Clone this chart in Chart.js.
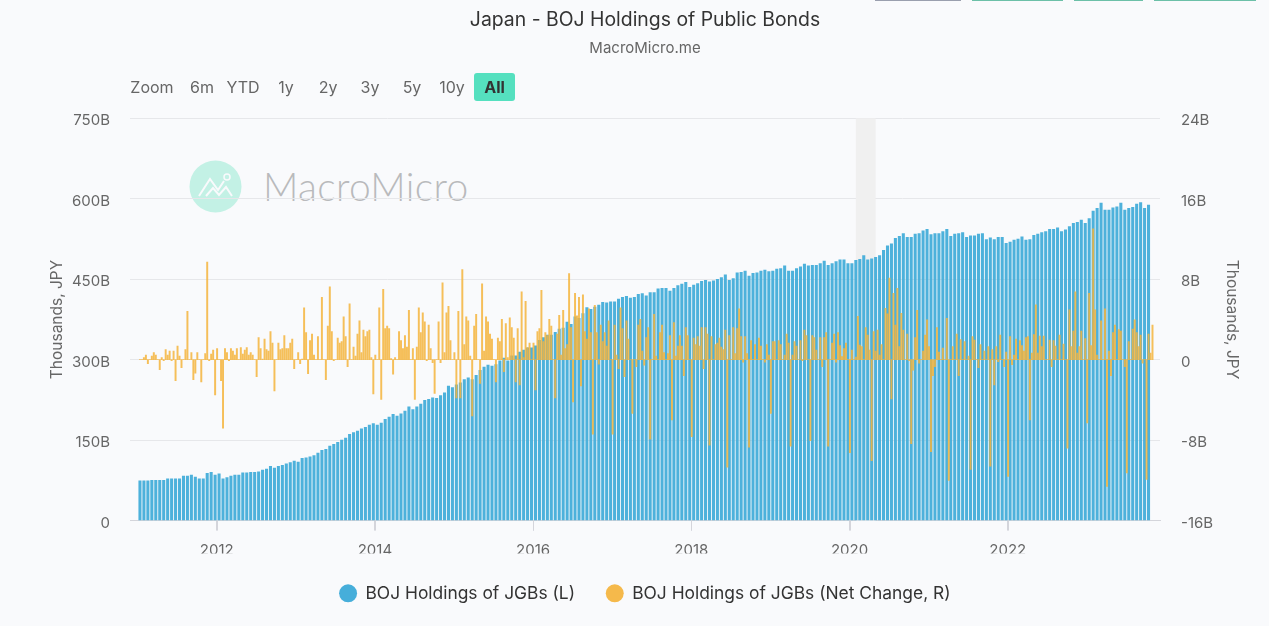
<!DOCTYPE html>
<html>
<head>
<meta charset="utf-8">
<title>Japan - BOJ Holdings of Public Bonds</title>
<script src="https://cdn.jsdelivr.net/npm/chart.js@4"></script>
<style>
  html, body { margin: 0; padding: 0; background: #f9fafc; overflow: hidden; }
  body { width: 1269px; height: 626px; position: relative; font-family: Inter, sans-serif; }
  canvas { position: absolute; left: 0; top: 0; }
  .range { position: absolute; top: 73px; height: 28px; line-height: 28px; font-size: 16px; color: #666; text-align: center; }
  .range.active { background: #55e0bf; border-radius: 3px; color: #333; font-weight: 700; }
  .cut { position: absolute; top: 0; height: 1px; }
  .mark { position: absolute; left: 189px; top: 160px; }
  .markText { position: absolute; left: 263px; top: 163px; font: 300 39px Lato, sans-serif; color: #b9babc; letter-spacing: 0.3px; }
</style>
</head>
<body>
<div class="cut" style="left:875px;width:86px;background:#9a9fae"></div>
<div class="cut" style="left:972px;width:91px;background:#6cc0a8"></div>
<div class="cut" style="left:1074px;width:69px;background:#6cc0a8"></div>
<div class="cut" style="left:1154px;width:102px;background:#6cc0a8"></div>

<svg class="mark" width="53" height="53" viewBox="0 0 53 53">
  <circle cx="26.5" cy="26.5" r="26" fill="#c3f1e5"/>
  <polyline points="10,36 21,19 29,30 35,21" fill="none" stroke="#f9fafc" stroke-width="2"/>
  <polyline points="17,36 24,28 30,35 37,27 43,36" fill="none" stroke="#f9fafc" stroke-width="2"/>
  <circle cx="38" cy="17" r="3" fill="none" stroke="#f9fafc" stroke-width="1.5"/>
</svg>
<div class="markText">MacroMicro</div>

<canvas id="chart" width="1269" height="626"></canvas>

<div class="range" style="left:130px;width:44px">Zoom</div>
<div class="range" style="left:187px;width:30px">6m</div>
<div class="range" style="left:224px;width:38px">YTD</div>
<div class="range" style="left:272px;width:28px">1y</div>
<div class="range" style="left:314px;width:28px">2y</div>
<div class="range" style="left:356px;width:28px">3y</div>
<div class="range" style="left:398px;width:28px">5y</div>
<div class="range" style="left:436px;width:32px">10y</div>
<div class="range active" style="left:474px;width:41px">All</div>

<script>
// ===== Data (billions) =====
const firstPeriod = 2011.03;
const holdingsPerYear = 20;
const changePerYear = 40;
const xTicks = [2012, 2014, 2016, 2018, 2020, 2022];
const leftTicks = [0, 150, 300, 450, 600, 750];
const rightTicks = [-16, -8, 0, 8, 16, 24];
const shadedPeriod = [2020.08, 2020.33];

const holdings = [
  74,74,74,75,75,75,75,78,78,78,
  78,83,83,85,81,78,78,88,90,85,
  87,78,80,83,85,85,89,89,90,90,
  91,94,96,101,98,101,103,106,108,111,
  109,116,117,119,121,126,131,133,139,142,
  146,150,154,161,164,167,171,174,178,181,
  178,182,189,193,198,195,199,204,212,207,
  212,217,224,226,229,228,233,238,251,248,
  253,257,263,
  266,263,271,280,286,290,288,291,298,303,
  298,307,307,314,318,322,322,326,336,341,
  346,346,351,357,359,370,366,380,377,386,
  397,394,398,402,407,406,408,408,413,416,
  418,415,416,422,423,419,425,425,432,433,
  433,428,433,438,441,444,435,439,442,446,
  448,445,447,450,453,458,448,451,462,463,
  465,456,461,462,465,467,464,465,469,470,
  475,465,465,470,473,478,
  475,476,476,479,484,476,479,483,486,486,
  479,479,485,487,494,486,488,491,494,504,
  512,516,526,530,535,528,528,534,535,540,
  543,533,535,535,539,543,530,534,535,537,
  528,531,531,534,535,524,527,524,528,528,
  517,519,523,525,529,523,524,532,534,537,
  539,543,543,546,539,542,548,554,556,560,
  554,563,577,582,592,579,579,583,585,592,
  579,582,584,590,593,582,588
];

const netChange = [
  0,0,.2,.45,-.4,0,.35,.7,.45,0,
  -1,.2,-.1,1,.45,.85,-.1,.85,-2.1,1.35,
  .35,-.8,0,1,4.8,0,.7,-2,-1.35,.7,
  0,-2.2,0,.6,9.7,-.1,.55,.95,-3.5,1.1,
  0,-2.1,-6.8,1.1,.7,-.1,1.1,.85,.45,1.1,
  0,1.2,.55,.95,1.2,.45,.7,.45,0,-1.7,
  2.2,1.1,.05,2.05,1,.85,2.8,1.65,-3.1,0,
  1.65,1,1.1,2.4,1.1,1.1,1.65,2.05,-.9,0,
  .7,-.4,.05,5.15,2.7,-1.4,1.9,2.55,.45,0,
  2.3,0,6.2,0,-2,3.35,7.25,2.8,-.1,0,
  2.15,1.65,1.8,4.25,2.3,-.7,5.55,0,1.25,.35,
  2.55,3.85,.7,2.95,2.3,2.8,2.95,.2,-3.4,.45,
  0,5.15,-3.95,7,3.1,3.35,3.1,.1,-1.45,.2,
  0,2.8,1.9,1.1,2.4,1.25,4.9,0,1.1,-3.95,
  1.25,5.15,2.7,4.65,3.75,-.1,3.45,1.1,-.3,-3.35,
  0,3.75,-.3,7.65,.7,4.65,5.3,1.9,0,.7,
  -3.8,4.8,-3.8,8.95,1.5,4.25,3.85,.35,-5.6,3.35,
  4.5,0,-2.35,7.55,.85,4.25,3.75,2.55,2.05,0,
  -2.2,2.15,1.8,4,-1.2,3.6,.2,4.15,3.2,2.15,
  -2.2,3.1,-2.5,6.75,.2,5.8,1.2,1.65,0,1.65,
  -3,2.8,3.1,6.9,1.8,2.7,2.4,4,3.35,0,
  -3.8,2.55,4.4,.45,4.9,1.1,1.5,8.55,3.2,-4.2,
  6.6,4.35,6.2,-2.6,6.45,2.8,2.05,5.05,2.7,-7.4,
  5.4,2.7,-.45,3.45,1.8,2.7,1.35,3.85,0,-7.4,
  3.45,.45,-.9,5.15,3.1,-1.7,3.85,2.05,0,-5.35,
  0,-.7,3.45,4,.85,-.55,2.2,3.2,-7.9,0,
  4.5,.35,0,2.7,3.45,.7,0,.6,2.4,-6,
  3.7,.35,1.35,2.4,1.35,-1.6,3.2,2.4,0,-7.65,
  2.15,1.5,2.3,1.35,3.2,-.9,3.2,2.55,-8.5,2.3,
  0,1.5,1.65,2.15,1.25,1,2.95,-10.7,2.4,0,
  3.2,.6,3.1,5.05,2.3,-.25,2.3,.6,-8.7,1.9,
  0,1.5,0,2.15,1.35,0,-.25,1.5,.45,-5.35,
  1.8,1.8,0,1.9,1.5,0,.45,2.55,1.65,-8.6,
  .45,1.8,1.35,0,1.9,-.1,2.95,2.4,0,-8.05,
  2.4,2.2,.95,0,2.2,-.7,2.2,2.7,-8.6,0,
  1.65,2.55,-.25,2.7,1.4,.3,1.1,1.65,0,-9.25,
  .95,0,.25,4.3,1.45,1.3,0,3.2,2.45,.95,
  -10.05,2.8,.85,2.95,.45,1.5,0,5.1,4.55,8.1,
  -3.9,6.6,3.45,7.1,1.3,4.6,2.95,0,2.55,-.1,
  -8.35,-1.05,2.2,4.9,-.35,0,.85,2.45,3.95,1.3,
  -9.15,-1.6,-.7,3.2,.75,0,1.15,0,4.1,-12,
  0,1.3,0,2.55,-1.6,2,0,1.8,0,.35,
  -10.9,2.3,1.95,0,-.8,1.5,0,.85,0,1.3,
  -10.6,1,-2.5,1.3,-.2,2.45,0,-.7,.75,-11.6,
  2.3,-.5,.45,2.05,0,1.9,1.4,.85,2.2,2.3,
  -6,.65,2.5,5.45,.65,2.35,1.3,2.35,0,0,
  1.95,-.7,1.9,1.35,0,2.45,0,1.55,0,-8.8,
  4.95,1.3,2.85,6.75,.65,1.3,2.85,0,2.1,-6.3,
  6.6,1.4,13,4.95,.45,0,3.85,0,5.05,-12.6,
  .85,-1.6,2.7,3.45,0,3,2.85,0,-.7,-11.25,
  1.8,0,3.05,3.95,2.7,1.3,2.45,-.35,0,-11.9,
  2.55,.65,3.45
];

// ===== Shaded band behind the bars, year marks under the axis =====
const axisDecor = {
  id: "axisDecor",
  beforeDatasetsDraw(chart) {
    const { ctx, chartArea, scales } = chart;
    const x0 = scales.x.getPixelForValue(shadedPeriod[0]);
    const x1 = scales.x.getPixelForValue(shadedPeriod[1]);
    ctx.save();
    ctx.fillStyle = "#f0f0f0";
    ctx.fillRect(x0, chartArea.top, x1 - x0, chartArea.bottom - chartArea.top);
    ctx.restore();
  },
  afterDraw(chart) {
    const { ctx, chartArea, scales } = chart;
    ctx.save();
    ctx.strokeStyle = "#d4d5db";
    ctx.lineWidth = 1;
    xTicks.forEach(year => {
      const px = Math.round(scales.x.getPixelForValue(year)) + 0.5;
      ctx.beginPath();
      ctx.moveTo(px, chartArea.bottom);
      ctx.lineTo(px, chartArea.bottom + 10);
      ctx.stroke();
    });
    ctx.restore();
  }
};

const textColor = "#666";
const gridColor = "#e6e7ea";
const legendColors = ["#46aeda", "#f5b94b"];

const toPoints = (values, perYear) =>
  values.map((y, i) => ({ x: firstPeriod + i / perYear, y }));

new Chart(document.getElementById("chart"), {
  type: "bar",
  plugins: [axisDecor],
  data: {
    datasets: [
      {
        label: "BOJ Holdings of JGBs (L)",
        data: toPoints(holdings, holdingsPerYear),
        yAxisID: "y",
        backgroundColor: "rgba(70,174,218,0.96)",
        barThickness: 2.4,
        grouped: false,
        order: 2,
        pointStyle: "circle"
      },
      {
        label: "BOJ Holdings of JGBs (Net Change, R)",
        data: toPoints(netChange, changePerYear),
        yAxisID: "y2",
        backgroundColor: "rgba(245,180,60,0.85)",
        barThickness: 1.3,
        grouped: false,
        order: 1,
        pointStyle: "circle"
      }
    ]
  },
  options: {
    responsive: false,
    animation: false,
    layout: { padding: { bottom: 14 } },
    plugins: {
      tooltip: { enabled: false },
      title: {
        display: true,
        fullSize: false,
        text: "Japan - BOJ Holdings of Public Bonds",
        color: "#333",
        font: { family: "Inter", size: 19.4, weight: "400" },
        padding: { top: 9, bottom: 0 }
      },
      subtitle: {
        display: true,
        fullSize: false,
        text: "MacroMicro.me",
        color: "#666",
        font: { family: "Inter", size: 15, weight: "400" },
        padding: { top: 7, bottom: 61 }
      },
      legend: {
        position: "bottom",
        fullSize: false,
        labels: {
          usePointStyle: true,
          boxHeight: 12.7,
          padding: 31,
          color: "#333",
          font: { family: "Inter", size: 17.4 },
          sort: (a, b) => a.datasetIndex - b.datasetIndex,
          generateLabels(chart) {
            return Chart.defaults.plugins.legend.labels.generateLabels(chart).map(item => ({
              ...item,
              fillStyle: legendColors[item.datasetIndex],
              strokeStyle: legendColors[item.datasetIndex],
              lineWidth: 0
            }));
          }
        }
      }
    },
    scales: {
      x: {
        type: "linear",
        min: 2010.904,
        max: 2023.925,
        offset: false,
        afterBuildTicks: s => { s.ticks = xTicks.map(value => ({ value })); },
        afterFit: s => { s.height = 33; },
        border: { color: "#d4d5db" },
        grid: { offset: false, drawOnChartArea: false, tickLength: 10, color: "#d4d5db" },
        ticks: {
          color: textColor,
          font: { family: "Inter", size: 15 },
          padding: 11,
          maxRotation: 0,
          callback: v => String(v)
        }
      },
      y: {
        position: "left",
        min: 0,
        max: 750,
        afterBuildTicks: s => { s.ticks = leftTicks.map(value => ({ value })); },
        afterFit: s => { s.width = 130; },
        border: { display: false },
        grid: { color: gridColor, drawTicks: false },
        title: {
          display: true,
          text: "Thousands, JPY",
          color: textColor,
          font: { family: "Inter", size: 15.5 },
          padding: { top: 48, bottom: 0 }
        },
        ticks: {
          color: textColor,
          font: { family: "Inter", size: 15 },
          padding: 20,
          labelOffset: 2.5,
          callback: v => v === 0 ? "0" : v + "B"
        }
      },
      y2: {
        position: "right",
        min: -16,
        max: 24,
        afterBuildTicks: s => { s.ticks = rightTicks.map(value => ({ value })); },
        afterFit: s => { s.width = 109; },
        border: { display: false },
        grid: { display: false, drawTicks: false },
        title: {
          display: true,
          text: "Thousands, JPY",
          color: textColor,
          font: { family: "Inter", size: 15.5 },
          padding: { top: 28, bottom: 0 }
        },
        ticks: {
          color: textColor,
          font: { family: "Inter", size: 15 },
          padding: 21,
          labelOffset: 2.5,
          callback: v => v === 0 ? "0" : v + "B"
        }
      }
    }
  }
});
</script>
</body>
</html>
